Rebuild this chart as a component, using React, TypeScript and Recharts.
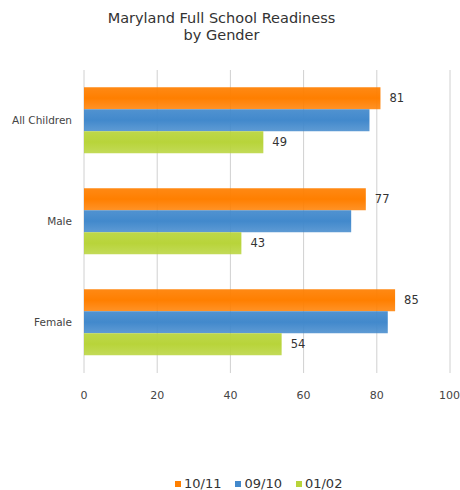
import React from "react";
import { BarChart, Bar, XAxis, YAxis, CartesianGrid, LabelList } from "recharts";

const categories = ["All Children", "Male", "Female"];
const year1011 = [81, 77, 85];
const year0910 = [78, 73, 83];
const year0102 = [49, 43, 54];
const xTicks = [0, 20, 40, 60, 80, 100];

const seriesList = [
  { key: "y1011", name: "10/11", color: "#ff7f00", labels: true },
  { key: "y0910", name: "09/10", color: "#4289cc", labels: false },
  { key: "y0102", name: "01/02", color: "#b8d43a", labels: true },
];

const data = categories.map((name, i) => ({
  name,
  y1011: year1011[i],
  y0910: year0910[i],
  y0102: year0102[i],
}));

const FONT = "'DejaVu Sans', Verdana, sans-serif";

export default function App() {
  return (
    <div style={{ position: "absolute", left: 0, top: 0, width: 460, height: 490, background: "#fff" }}>
      <div
        style={{
          position: "absolute",
          top: 10,
          left: 0,
          width: 443,
          textAlign: "center",
          fontFamily: FONT,
          fontSize: 14.5,
          lineHeight: "17px",
          color: "#333",
        }}
      >
        Maryland Full School Readiness
        <br />
        by Gender
      </div>
      <BarChart
        width={460}
        height={490}
        data={data}
        layout="vertical"
        margin={{ top: 70, right: 10, bottom: 87, left: 0 }}
        barCategoryGap="17%"
        barGap={0}
      >
        <defs>
          {seriesList.map((s) => (
            <linearGradient key={s.key} id={`g-${s.key}`} x1="0" y1="0" x2="0" y2="1">
              <stop offset="0%" stopColor={s.color} stopOpacity={0.92} />
              <stop offset="50%" stopColor={s.color} stopOpacity={1} />
              <stop offset="100%" stopColor={s.color} stopOpacity={0.85} />
            </linearGradient>
          ))}
        </defs>
        <CartesianGrid horizontal={false} stroke="#d0d0d0" />
        <XAxis
          type="number"
          domain={[0, 100]}
          ticks={xTicks}
          axisLine={false}
          tickLine={false}
          tickMargin={12}
          height={30}
          tick={{ fill: "#444", fontSize: 11, fontFamily: FONT }}
        />
        <YAxis
          type="category"
          dataKey="name"
          width={84}
          axisLine={false}
          tickLine={false}
          tickMargin={6}
          tick={{ fill: "#444", fontSize: 10.5, fontFamily: FONT }}
        />
        {seriesList.map((s) => (
          <Bar key={s.key} dataKey={s.key} name={s.name} fill={`url(#g-${s.key})`} isAnimationActive={false}>
            {s.labels && (
              <LabelList
                dataKey={s.key}
                position="right"
                offset={9}
                style={{ fill: "#333", fontSize: 11.5, fontFamily: FONT }}
              />
            )}
          </Bar>
        ))}
      </BarChart>
      <div
        style={{
          position: "absolute",
          left: 175,
          top: 476,
          display: "flex",
          gap: 14,
          fontFamily: FONT,
          fontSize: 13,
          color: "#333",
        }}
      >
        {seriesList.map((s) => (
          <div key={s.key} style={{ display: "flex", alignItems: "center", gap: 3 }}>
            <span style={{ width: 6, height: 6, background: s.color, display: "inline-block" }} />
            <span>{s.name}</span>
          </div>
        ))}
      </div>
    </div>
  );
}
